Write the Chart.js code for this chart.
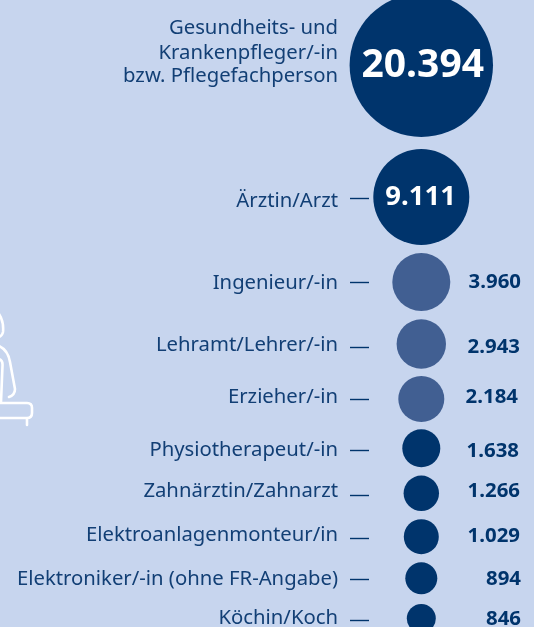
<!DOCTYPE html>
<html lang="de">
<head>
<meta charset="utf-8">
<title>Berufe</title>
<style>
  html, body { margin: 0; padding: 0; background: #c7d5ee; }
  #wrap { position: relative; width: 534px; height: 627px; overflow: hidden; }
  canvas { display: block; }
</style>
<script src="https://cdn.jsdelivr.net/npm/chart.js@4"></script>
</head>
<body>
<div id="wrap"><canvas id="chart" width="534" height="627"></canvas></div>
<script>
// Data
const categories = [
  ['Gesundheits- und', 'Krankenpfleger/-in', 'bzw. Pflegefachperson'],
  ['Ärztin/Arzt'],
  ['Ingenieur/-in'],
  ['Lehramt/Lehrer/-in'],
  ['Erzieher/-in'],
  ['Physiotherapeut/-in'],
  ['Zahnärztin/Zahnarzt'],
  ['Elektroanlagenmonteur/in'],
  ['Elektroniker/-in (ohne FR-Angabe)'],
  ['Köchin/Koch']
];
const values = [20394, 9111, 3960, 2943, 2184, 1638, 1266, 1029, 894, 846];
const valueLabels = ['20.394', '9.111', '3.960', '2.943', '2.184', '1.638', '1.266', '1.029', '894', '846'];

// Layout, kept apart from the data
const rowY = [65.3, 197, 282, 344, 399, 448.3, 493.3, 536.7, 578.3, 618.5];
const radii = [71.7, 48, 29, 24.7, 23, 19, 17.7, 17.5, 16, 14.5];
const bubbleColors = ['#00346c', '#00346c', '#415f92', '#415f92', '#415f92', '#00346c', '#00346c', '#00346c', '#00346c', '#00346c'];
const valueRight = [484, 456, 521, 520, 518, 519, 520, 520, 521, 521];
const valueBase = [77, 205, 288, 353, 403, 457, 497, 542, 585, 625];
const valueSize = [39, 27.5, 20.4, 20.4, 20.4, 20.4, 20.4, 20.4, 20.4, 20.4];
const lineY = [0, 198, 282, 347, 399, 450, 495, 538, 579, 620];
const labelBase = [[34, 58.5, 82], [207], [289], [351], [403], [456], [497], [541], [585], [624]];

const NAVY = '#00346c';
const TEXT = '#123f75';

const labelPlugin = {
  id: 'rowLabels',
  afterDatasetsDraw(chart) {
    const ctx = chart.ctx;
    ctx.save();
    ctx.textBaseline = 'alphabetic';
    ctx.textAlign = 'right';
    categories.forEach((lines, i) => {
      ctx.font = '20.3px "Noto Sans"';
      ctx.fillStyle = TEXT;
      lines.forEach((t, j) => ctx.fillText(t, 338, labelBase[i][j]));
      // leader line, the first row has none
      if (lineY[i]) {
        ctx.strokeStyle = NAVY;
        ctx.lineWidth = 1.4;
        ctx.beginPath();
        ctx.moveTo(350, lineY[i] + 0.5);
        ctx.lineTo(369, lineY[i] + 0.5);
        ctx.stroke();
      }
      ctx.font = 'bold ' + valueSize[i] + 'px "Noto Sans"';
      ctx.fillStyle = i < 2 ? '#ffffff' : NAVY;
      ctx.fillText(valueLabels[i], valueRight[i], valueBase[i]);
    });
    ctx.restore();
  }
};

// white outline of the seated figure at the left edge
const figurePlugin = {
  id: 'figure',
  beforeDatasetsDraw(chart) {
    const ctx = chart.ctx;
    ctx.save();
    ctx.strokeStyle = '#ffffff';
    ctx.lineWidth = 2.6;
    ctx.lineCap = 'round';
    ctx.beginPath();
    ctx.moveTo(-1, 314);
    ctx.quadraticCurveTo(4, 322, 3, 332);
    ctx.quadraticCurveTo(2, 336, -1, 337);
    ctx.moveTo(-1, 346);
    ctx.quadraticCurveTo(8, 350, 10, 362);
    ctx.lineTo(15, 389);
    ctx.quadraticCurveTo(15, 395, 9, 397);
    ctx.moveTo(-1, 359);
    ctx.quadraticCurveTo(3, 360, 2.5, 366);
    ctx.lineTo(1, 402);
    ctx.moveTo(-1, 403);
    ctx.lineTo(27, 403);
    ctx.quadraticCurveTo(32, 403, 32, 408);
    ctx.lineTo(32, 413);
    ctx.quadraticCurveTo(32, 418, 27, 418);
    ctx.lineTo(-1, 418);
    ctx.moveTo(27, 418);
    ctx.lineTo(27, 425);
    ctx.stroke();
    ctx.restore();
  }
};

new Chart(document.getElementById('chart').getContext('2d'), {
  type: 'bubble',
  data: {
    datasets: [{
      label: 'Anzahl',
      data: values.map((v, i) => ({ x: 0, y: rowY[i], r: radii[i], value: v })),
      backgroundColor: bubbleColors,
      borderWidth: 0,
      hoverRadius: 0,
      clip: false
    }]
  },
  options: {
    responsive: false,
    animation: false,
    layout: { padding: 0, autoPadding: false },
    plugins: { legend: { display: false }, tooltip: { enabled: false } },
    scales: {
      x: { type: 'linear', display: false, min: -421.3, max: 112.7 },
      y: { type: 'linear', display: false, min: 0, max: 627, reverse: true }
    }
  },
  plugins: [figurePlugin, labelPlugin]
});
</script>
</body>
</html>
